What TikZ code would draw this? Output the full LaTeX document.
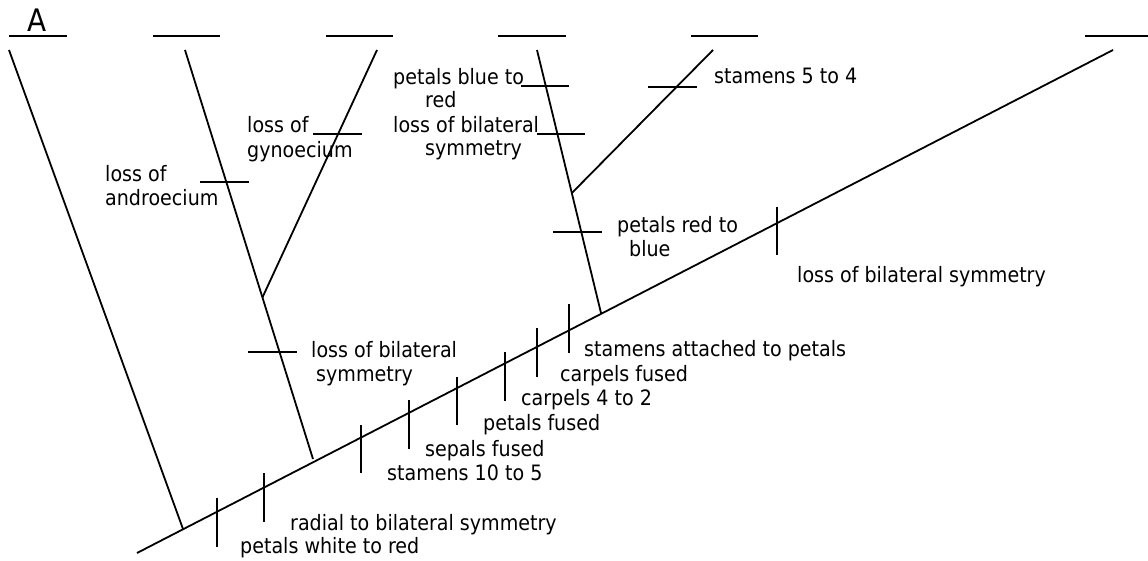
\documentclass[tikz,border=0pt]{standalone}
\usepackage{fontspec}
\setmainfont{DejaVu Sans}[FakeStretch=0.9]
\usetikzlibrary{calc}
\begin{document}
\begin{tikzpicture}[x=1pt,y=-1pt,
  branch/.style={line width=1.8pt},
  marktick/.style={line width=1.8pt},
  blank/.style={line width=2.6pt},
  lab/.style={anchor=base west, inner sep=0pt, font=\fontsize{21.2}{24}\selectfont},
  biglab/.style={anchor=base west, inner sep=0pt, font=\fontsize{31}{34}\selectfont}]
\useasboundingbox (0,0) rectangle (1148,561);
% blanks at the top
\node[biglab] (lA) at (27,32) {A};
\draw[blank] (9,36) -- (67,36);
\draw[blank] (153,36) -- (220,36);
\draw[blank] (326,36) -- (393,36);
\draw[blank] (498,36) -- (566,36);
\draw[blank] (691,36) -- (758,36);
\draw[blank] (1085,36) -- (1148,36);
% tree coordinates
\coordinate (root) at (137,553);
\coordinate (tip) at (1113,50);
\coordinate (aTop) at (9,50);
\coordinate (aBot) at (183,529);
\coordinate (bTop) at (185,50);
\coordinate (bBot) at (313,459);
\coordinate (cTop) at (377,50);
\coordinate (cBot) at ($(bTop)!0.605!(bBot)$);
\coordinate (dTop) at (537,50);
\coordinate (dBot) at (601,313);
\coordinate (eTop) at (713,50);
\coordinate (eBot) at ($(dTop)!0.544!(dBot)$);
% branches
\draw[branch] (root) -- (tip);
\draw[branch] (aTop) -- (aBot);
\draw[branch] (bTop) -- (bBot);
\draw[branch] (cTop) -- (cBot);
\draw[branch] (dTop) -- (dBot);
\draw[branch] (eTop) -- (eBot);
% ticks on the main line
\draw[marktick] (217,498) -- (217,547);
\draw[marktick] (264,473) -- (264,522);
\draw[marktick] (361,425) -- (361,473);
\draw[marktick] (409,400) -- (409,449);
\draw[marktick] (457,377) -- (457,425);
\draw[marktick] (505,352) -- (505,401);
\draw[marktick] (537,328) -- (537,377);
\draw[marktick] (569,304) -- (569,353);
\draw[marktick] (777,207) -- (777,255);
% ticks on the side branches
\draw[marktick] (200,182) -- (249,182);
\draw[marktick] (248,352) -- (297,352);
\draw[marktick] (313,134) -- (362,134);
\draw[marktick] (521,86) -- (569,86);
\draw[marktick] (537,134) -- (585,134);
\draw[marktick] (553,232) -- (602,232);
\draw[marktick] (648,87) -- (697,87);
% labels
\node[lab] (l1a) at (105,182) {loss of};
\node[lab] (l1b) at (105,206) {androecium};
\node[lab] (l2a) at (247,133) {loss of};
\node[lab] (l2b) at (247,158) {gynoecium};
\node[lab] (l3a) at (311,357) {loss of bilateral};
\node[lab] (l3b) at (316,381) {symmetry};
\node[lab] (l4a) at (393,85) {petals blue to};
\node[lab] (l4b) at (425,108) {red};
\node[lab] (l5a) at (393,133) {loss of bilateral};
\node[lab] (l5b) at (425,156) {symmetry};
\node[lab] (l6) at (714,84) {stamens 5 to 4};
\node[lab] (l7a) at (617,233) {petals red to};
\node[lab] (l7b) at (629,257) {blue};
\node[lab] (l8) at (797,283) {loss of bilateral symmetry};
\node[lab] (l9) at (584,356) {stamens attached to petals};
\node[lab] (l10) at (560,381) {carpels fused};
\node[lab] (l11) at (521,405) {carpels 4 to 2};
\node[lab] (l12) at (483,430) {petals fused};
\node[lab] (l13) at (425,456) {sepals fused};
\node[lab] (l14) at (387,480) {stamens 10 to 5};
\node[lab] (l15) at (290,530) {radial to bilateral symmetry};
\node[lab] (l16) at (240,553) {petals white to red};
\end{tikzpicture}
\end{document}
